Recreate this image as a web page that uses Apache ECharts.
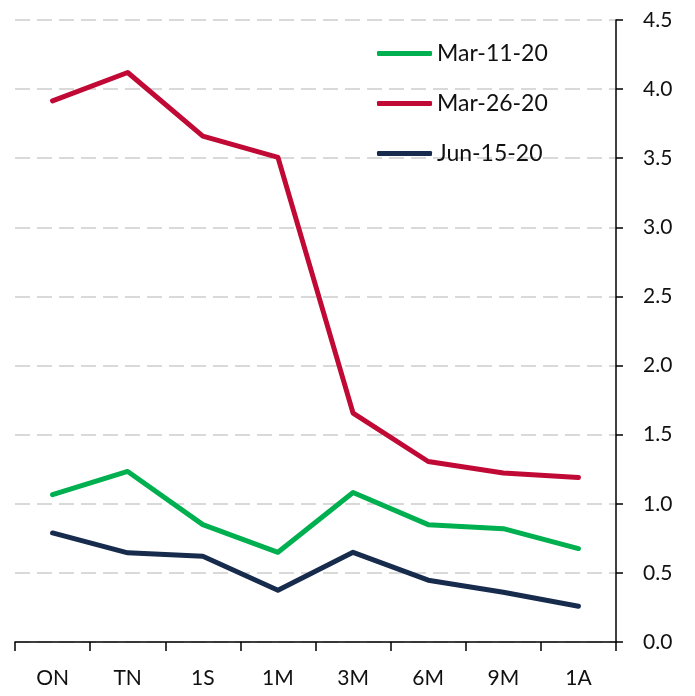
<!DOCTYPE html>
<html>
<head>
<meta charset="utf-8">
<script src="https://cdn.jsdelivr.net/npm/echarts@6/dist/echarts.min.js"></script>
<style>html,body{margin:0;padding:0;background:#fff}#c{width:695px;height:696px}</style>
</head>
<body>
<div id="c"></div>
<script>
var categories = ['ON', 'TN', '1S', '1M', '3M', '6M', '9M', '1A'];
var seriesNames = ['Mar-11-20', 'Mar-26-20', 'Jun-15-20'];
var mar11 = [1.066, 1.234, 0.849, 0.649, 1.082, 0.849, 0.82, 0.676];
var mar26 = [3.915, 4.12, 3.66, 3.506, 1.656, 1.306, 1.222, 1.19];
var jun15 = [0.789, 0.645, 0.62, 0.374, 0.649, 0.447, 0.36, 0.259];
var yTicks = { min: 0, max: 4.5, interval: 0.5 };
var colors = ['#00B050', '#C00A35', '#172B4D'];

var font = 'Lato, "Liberation Sans", sans-serif';
var chart = echarts.init(document.getElementById('c'));
var dataList = [mar11, mar26, jun15];
chart.setOption({
  animation: false,
  color: colors,
  grid: { left: 15, right: 79, top: 20, bottom: 54, containLabel: false },
  legend: {
    orient: 'vertical',
    left: 377,
    top: 42,
    padding: 0,
    icon: 'roundRect',
    itemWidth: 55,
    itemHeight: 5,
    itemGap: 27,
    textStyle: { fontFamily: font, fontSize: 23, color: '#111', padding: [0, 0, 0, 0] },
    data: seriesNames
  },
  xAxis: {
    type: 'category',
    data: categories,
    boundaryGap: true,
    axisLine: { lineStyle: { color: '#000', width: 1.5 } },
    axisTick: { show: true, length: 9, lineStyle: { color: '#000', width: 1.5 } },
    axisLabel: { fontFamily: font, fontSize: 21, color: '#111', margin: 26 },
    splitLine: { show: false }
  },
  yAxis: {
    type: 'value',
    position: 'right',
    min: yTicks.min,
    max: yTicks.max,
    interval: yTicks.interval,
    axisLine: { show: true, lineStyle: { color: '#000', width: 1.5 } },
    axisTick: { show: true, inside: false, length: 7, lineStyle: { color: '#000', width: 1.5 } },
    axisLabel: {
      fontFamily: font, fontSize: 21, color: '#111', margin: 27,
      formatter: function (v) { return v.toFixed(1); }
    },
    splitLine: { show: true, lineStyle: { color: '#D9D9D9', width: 2, type: [15, 7] } }
  },
  series: seriesNames.map(function (n, i) {
    return {
      name: n,
      type: 'line',
      data: dataList[i],
      symbol: 'none',
      lineStyle: { width: 5, cap: 'round', join: 'round' },
      z: 3 - i
    };
  })
});
</script>
</body>
</html>
